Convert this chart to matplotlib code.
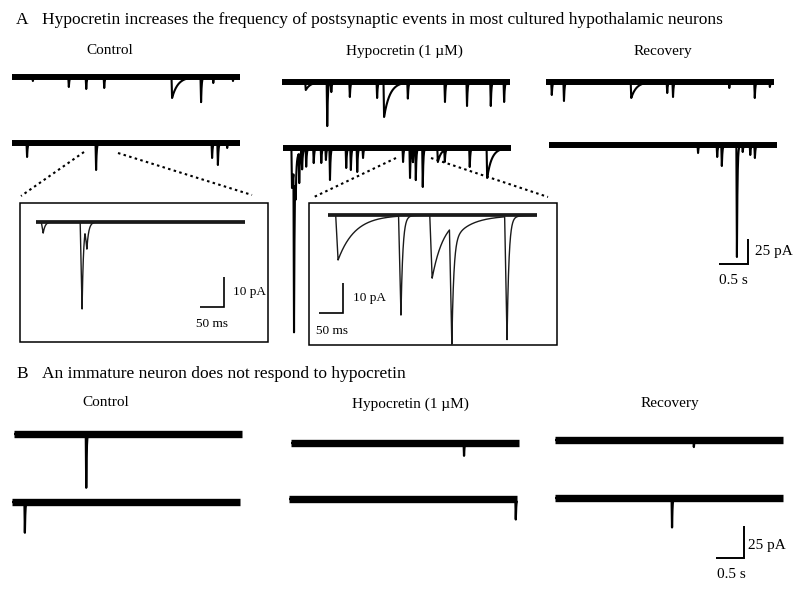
import numpy as np
import matplotlib
matplotlib.use("Agg")
import matplotlib.pyplot as plt
from matplotlib.patches import Rectangle

W, H = 800, 591
SERIF = "Liberation Serif"

# ---- event lists: (time s, amplitude pA, decay tau s) ----
# panel A, main traces (3.9 s sweeps)
A_CTRL_1 = [(0.36, 4, 0.01), (0.98, 10, 0.01), (1.28, 12, 0.01), (1.59, 11, 0.01),
            (2.76, 21, 0.10), (3.26, 25, 0.01), (3.47, 6, 0.01), (3.81, 4, 0.01)]
A_CTRL_2 = [(0.26, 14, 0.01), (1.45, 27, 0.01), (3.45, 15, 0.01), (3.55, 22, 0.01),
            (3.71, 5, 0.01)]
A_HYP_1 = [(0.41, 8, 0.08), (0.78, 44, 0.01), (0.85, 10, 0.01), (1.17, 15, 0.01),
           (1.64, 16, 0.01), (1.76, 35, 0.10), (2.17, 16, 0.01), (2.81, 20, 0.01),
           (3.19, 24, 0.01), (3.60, 24, 0.01), (3.83, 20, 0.01)]
A_HYP_2 = [(0.155, 40, 0.06), (0.19, 162, 0.01), (0.22, 30, 0.01), (0.28, 30, 0.01),
           (0.33, 19, 0.01), (0.40, 18, 0.01), (0.53, 15, 0.01), (0.66, 15, 0.01),
           (0.74, 12, 0.01), (0.81, 32, 0.01), (1.09, 20, 0.01), (1.17, 22, 0.01),
           (1.28, 24, 0.01), (1.38, 10, 0.01), (2.07, 14, 0.01), (2.19, 30, 0.01),
           (2.24, 14, 0.01), (2.29, 32, 0.01), (2.41, 39, 0.01), (2.67, 14, 0.06),
           (2.79, 12, 0.01), (3.22, 19, 0.01), (3.52, 30, 0.08)]
A_REC_1 = [(0.10, 13, 0.01), (0.31, 19, 0.01), (1.47, 16, 0.09), (2.09, 11, 0.01),
           (2.19, 15, 0.01), (3.16, 6, 0.01), (3.60, 16, 0.01), (3.86, 5, 0.01)]
A_REC_2 = [(2.57, 8, 0.01), (2.90, 12, 0.01), (2.98, 21, 0.01), (3.24, 112, 0.01),
           (3.34, 7, 0.01), (3.47, 10, 0.01), (3.55, 13, 0.01)]

# panel A, expanded insets (0.43 s)
INSET_CTRL = [(0.015, 3.7, 0.004), (0.096, 29, 0.003), (0.106, 8, 0.004)]
INSET_HYP = [(0.021, 15, 0.035), (0.152, 33, 0.004), (0.217, 21, 0.025),
             (0.258, 34, 0.004), (0.258, 5, 0.05), (0.373, 41, 0.004)]

# panel B (4.07 s sweeps)
B_CTRL_1 = [(1.29, 42, 0.008)]
B_CTRL_2 = [(0.23, 24, 0.008)]
B_HYP_1 = [(3.09, 10, 0.008)]
B_HYP_2 = [(4.05, 16, 0.008)]
B_REC_1 = [(2.48, 5.5, 0.008)]
B_REC_2 = [(2.09, 23, 0.008)]

DUR_A = 3.93
DUR_B = 4.07
DUR_INSET = 0.435

fig = plt.figure(figsize=(8, 5.91), dpi=100)

# full-figure overlay in pixel units for text, boxes and guide lines
over = fig.add_axes([0, 0, 1, 1])
over.set_xlim(0, W)
over.set_ylim(H, 0)
over.axis("off")


def trace_ax(x0, y0, px_s, px_pA, dur, lo, hi):
    # axes whose data point (0, 0) falls on pixel (x0, y0)
    ax = fig.add_axes([x0 / W, 1 - (y0 - lo * px_pA) / H,
                       dur * px_s / W, (hi - lo) * px_pA / H])
    ax.set_xlim(0, dur)
    ax.set_ylim(lo, hi)
    ax.axis("off")
    return ax


def draw_trace(ax, dur, events, rise, band_lw, spike_lw, color="black"):
    t = np.linspace(0, dur, 6000)
    extra = [e[0] for e in events] + [e[0] - rise for e in events]
    t = np.unique(np.concatenate([t, extra]))
    t = t[(t >= 0) & (t <= dur)]
    y = np.zeros_like(t)
    for t0, amp, tau in events:
        on = (t >= t0 - rise) & (t < t0)
        y[on] -= amp * (t[on] - (t0 - rise)) / rise
        after = t >= t0
        y[after] -= amp * np.exp(-(t[after] - t0) / tau)
    ax.plot([0, dur], [0, 0], color=color, lw=band_lw,
            solid_capstyle="butt", clip_on=False)
    ax.plot(t, y, color=color, lw=spike_lw, solid_capstyle="butt",
            clip_on=False)


def scale_bar(x0, y0, px_s, px_pA, sec, pA, lw=1.4):
    ax = trace_ax(x0, y0, px_s, px_pA, sec, 0, pA)
    ax.plot([0, sec, sec], [0, 0, pA], color="black", lw=lw,
            solid_joinstyle="miter", solid_capstyle="butt", clip_on=False)


# ---- panel A main traces ----
PX_S_A, PX_PA_A = 58, 1.0
for x0, y0, ev in [(12, 77, A_CTRL_1), (12, 143, A_CTRL_2),
                   (282, 82, A_HYP_1), (283, 148, A_HYP_2),
                   (546, 82, A_REC_1), (549, 145, A_REC_2)]:
    ax = trace_ax(x0, y0, PX_S_A, PX_PA_A, DUR_A, -170, 5)
    draw_trace(ax, DUR_A, ev, 0.01, 4.3, 1.5)

scale_bar(719, 264, PX_S_A, PX_PA_A, 0.5, 25)

# ---- insets ----
PX_S_I, PX_PA_I = 480, 3.0
over.add_patch(Rectangle((20, 203), 248, 139, fill=False, lw=1.1, ec="black"))
over.add_patch(Rectangle((309, 203), 248, 142, fill=False, lw=1.1, ec="black"))
ax = trace_ax(36, 222, PX_S_I, PX_PA_I, DUR_INSET, -45, 5)
draw_trace(ax, DUR_INSET, INSET_CTRL, 0.004, 2.7, 1.0, color="#1a1a1a")
ax = trace_ax(328, 215, PX_S_I, PX_PA_I, DUR_INSET, -45, 5)
draw_trace(ax, DUR_INSET, INSET_HYP, 0.005, 2.7, 1.0, color="#1a1a1a")
scale_bar(200, 307, PX_S_I, PX_PA_I, 0.05, 10, lw=1.2)
scale_bar(319, 313, PX_S_I, PX_PA_I, 0.05, 10, lw=1.2)

# dotted guides from the sweep to the expanded view
for (xa, ya), (xb, yb) in [((84, 152), (21, 196)), ((118, 153), (252, 195)),
                           ((396, 158), (314, 197)), ((431, 158), (548, 197))]:
    over.plot([xa, xb], [ya, yb], color="black", lw=1.5, ls=(0, (1.2, 1.6)))

# ---- panel B ----
PX_S_B, PX_PA_B = 56, 1.28
for x0, y0, ev in [(14, 434, B_CTRL_1), (12, 502, B_CTRL_2),
                   (291, 443, B_HYP_1), (289, 499, B_HYP_2),
                   (555, 440, B_REC_1), (555, 498, B_REC_2)]:
    ax = trace_ax(x0, y0, PX_S_B, PX_PA_B, DUR_B, -50, 5)
    draw_trace(ax, DUR_B, ev, 0.008, 5.3, 1.6)

scale_bar(716, 558, PX_S_B, PX_PA_B, 0.5, 25)

# ---- text ----
txt = dict(family=SERIF, color="black", va="center")
over.text(16, 20, "A", fontsize=12.5, **txt)
over.text(42, 20, "Hypocretin increases the frequency of postsynaptic events "
          "in most cultured hypothalamic neurons", fontsize=12.5, **txt)
over.text(16, 374, "B", fontsize=12.5, **txt)
over.text(42, 374, "An immature neuron does not respond to hypocretin",
          fontsize=12.5, **txt)

for xc, yc, s in [(110, 51, "Control"), (404, 51, "Hypocretin (1 \u00b5M)"),
                  (663, 51, "Recovery"), (106, 402, "Control"),
                  (410, 404, "Hypocretin (1 \u00b5M)"), (670, 404, "Recovery")]:
    over.text(xc, yc, s, fontsize=11, ha="center", **txt)

over.text(755, 252, "25 pA", fontsize=11, **txt)
over.text(733, 281, "0.5 s", fontsize=11, ha="center", **txt)
over.text(748, 545, "25 pA", fontsize=11, **txt)
over.text(731, 575, "0.5 s", fontsize=11, ha="center", **txt)
over.text(233, 292, "10 pA", fontsize=9.5, **txt)
over.text(212, 324, "50 ms", fontsize=9.5, ha="center", **txt)
over.text(353, 298, "10 pA", fontsize=9.5, **txt)
over.text(332, 331, "50 ms", fontsize=9.5, ha="center", **txt)

fig.savefig("out.png", dpi=100)
